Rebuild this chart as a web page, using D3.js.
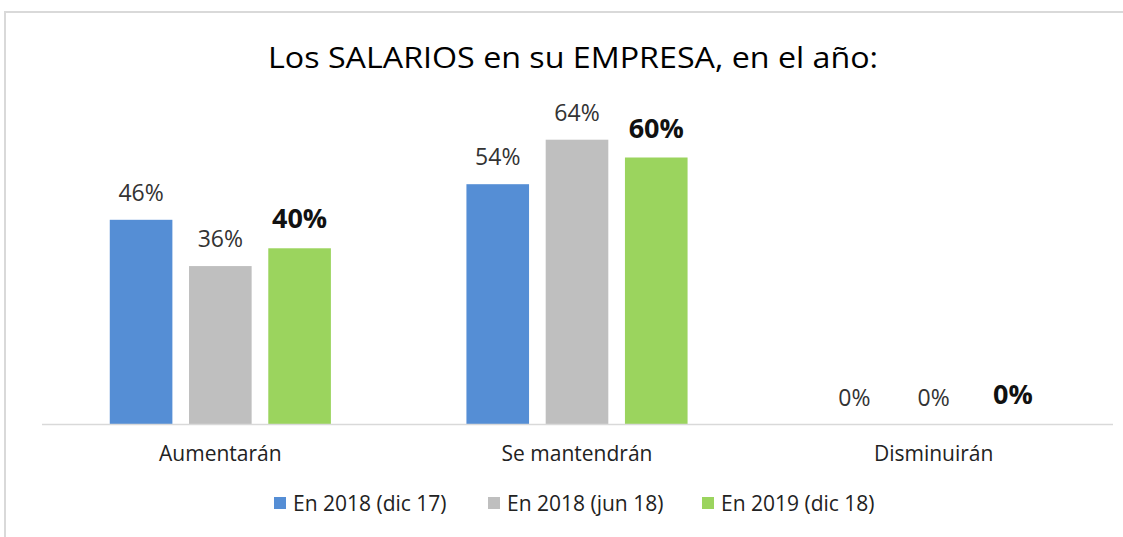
<!DOCTYPE html>
<html><head><meta charset="utf-8">
<script src="https://cdn.jsdelivr.net/npm/d3@7"></script>
<style>
html,body{margin:0;padding:0;background:#fff;}
text{font-family:"Open Sans","Noto Sans",sans-serif;}
</style></head>
<body>
<svg id="chart" width="1123" height="537"></svg>
<script>
const title = "Los SALARIOS en su EMPRESA, en el año:";
const categories = ["Aumentarán", "Se mantendrán", "Disminuirán"];
const seriesNames = ["En 2018 (dic 17)", "En 2018 (jun 18)", "En 2019 (dic 18)"];
const serie1 = [0.46, 0.54, 0.00];
const serie2 = [0.356, 0.64, 0.00];
const serie3 = [0.396, 0.60, 0.00];
const colors = ["#558ed5", "#bfbfbf", "#9bd45e"];

const seriesValues = [serie1, serie2, serie3];
const svg = d3.select("#chart");

// frame
svg.append("line").attr("x1",4).attr("x2",1123).attr("y1",12).attr("y2",12).attr("stroke","#d9d9d9").attr("stroke-width",2);
svg.append("line").attr("x1",5).attr("x2",5).attr("y1",12).attr("y2",537).attr("stroke","#d9d9d9").attr("stroke-width",2);

const x0 = d3.scaleBand().domain(categories).range([42,1112]).paddingInner(0.38).paddingOuter(0.19);
const x1 = d3.scaleBand().domain(d3.range(3)).range([0,x0.bandwidth()]).paddingInner(0.21).paddingOuter(0);
const y = d3.scaleLinear().domain([0,0.7]).range([424.5,113]);

// title
svg.append("text").attr("x",573).attr("y",68).attr("text-anchor","middle")
  .attr("font-size",30).attr("fill","#000")
  .attr("textLength",610).attr("lengthAdjust","spacingAndGlyphs").text(title);

const fmt = d3.format(".0%");
const groups = svg.selectAll("g.cat").data(categories).join("g")
  .attr("transform", d => `translate(${x0(d)},0)`);

groups.each(function(cat, ci){
  const g = d3.select(this);
  seriesValues.forEach((vals, si) => {
    const v = vals[ci];
    if (v > 0) {
      g.append("rect").attr("x", x1(si)).attr("width", x1.bandwidth())
        .attr("y", y(v)).attr("height", y(0)-y(v)).attr("fill", colors[si]);
    }
    const bold = si === 2;
    g.append("text").attr("x", x1(si)+x1.bandwidth()/2)
      .attr("y", y(v) - (bold ? 20 : 19) - (v===0 && bold ? 1 : 0))
      .attr("text-anchor","middle")
      .attr("font-size", bold ? 27 : 23)
      .attr("font-weight", bold ? "bold" : "normal")
      .attr("fill", bold ? "#111" : "#333")
      .text(fmt(v));
  });
});

// axis
const axis = svg.append("g").attr("transform",`translate(0,${y(0)})`)
  .call(d3.axisBottom(x0).tickSize(0).tickPadding(22));
axis.select(".domain").attr("stroke","#d9d9d9").attr("stroke-width",1.5).attr("d","M42,0H1113");
axis.selectAll("text").attr("font-size",21).attr("fill","#222").attr("font-family","Open Sans");

// legend
const legendX = [274, 488, 702];
const lg = svg.selectAll("g.leg").data(seriesNames).join("g")
  .attr("transform",(d,i)=>`translate(${legendX[i]},503)`);
lg.append("rect").attr("x",0).attr("y",-6).attr("width",12).attr("height",12).attr("fill",(d,i)=>colors[i]);
lg.append("text").attr("x",19).attr("y",7.5).attr("font-size",21).attr("fill","#222").text(d=>d);
</script>
</body></html>
